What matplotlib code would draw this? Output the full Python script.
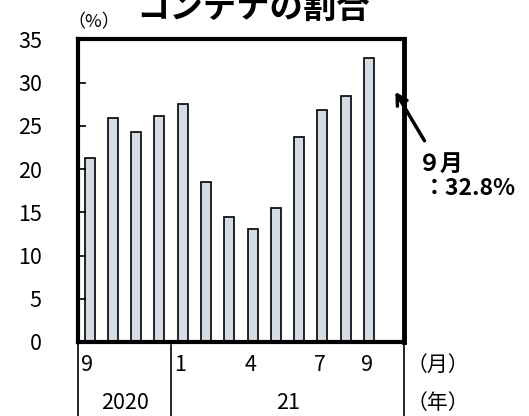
import matplotlib.pyplot as plt

plt.rcParams['font.family'] = ['Noto Sans CJK JP', 'DejaVu Sans']

# share of containers by month, Sep 2020 - Sep 2021 (%)
months = ['9', '10', '11', '12', '1', '2', '3', '4', '5', '6', '7', '8', '9']
share = [21.3, 25.9, 24.3, 26.1, 27.5, 18.5, 14.4, 13.1, 15.5, 23.7, 26.8, 28.5, 32.8]
shown_months = ['9', '1', '4', '7', '9']
shown_idx = [0, 4, 7, 10, 12]
years = ['2020', '21']
year_spans = [(-0.5, 3.5), (3.5, 13.5)]
yticks = [0, 5, 10, 15, 20, 25, 30, 35]

fig = plt.figure(figsize=(5.29, 4.16), dpi=100)
ax = fig.add_axes([0.1474, 0.1779, 0.6163, 0.7274])

x = list(range(len(share)))
ax.bar(x, share, width=0.43, color='#d6dce5', edgecolor='black', linewidth=1.2)

ax.set_xlim(-0.5, 13.5)
ax.set_ylim(0, 35)
ax.set_yticks(yticks)
ax.set_yticklabels([str(v) for v in yticks], fontsize=15.5)
ax.tick_params(axis='y', direction='in', length=6, width=1.2, pad=26)
ax.set_xticks([])
for s in ax.spines.values():
    s.set_linewidth(3)
ax.spines['right'].set_linewidth(3.5)

# category axis below the frame
tr = ax.get_xaxis_transform()
for xb, y0 in [(-0.5, 0), (3.5, -0.01), (13.5, 0)]:
    ax.plot([xb, xb], [y0, -0.26], color='black', lw=1.2, transform=tr, clip_on=False)
for i, lab in zip(shown_idx, shown_months):
    ax.text(i - 0.1, -0.076, lab, transform=tr, ha='center', va='center', fontsize=15.5)
for (a, b), lab in zip(year_spans, years):
    ax.text((a + b) / 2, -0.2, lab, transform=tr, ha='center', va='center', fontsize=15.5)
ax.text(13.6, -0.076, '（月）', transform=tr, ha='left', va='center', fontsize=15)
ax.text(13.6, -0.2, '（年）', transform=tr, ha='left', va='center', fontsize=15)

# labels and title
fig.text(0.128, 1 - 22 / 416, '（%）', ha='left', va='center', fontsize=13)
fig.text(0.479, 1 - 8 / 416, 'コンテナの割合', ha='center', va='center',
         fontsize=24, fontweight='bold')

# annotation for latest month
ax.annotate('', xy=(13.07, 29.2), xytext=(14.44, 23.0), annotation_clip=False,
            arrowprops=dict(arrowstyle='->,head_length=0.7,head_width=0.4',
                            color='black', lw=2.5))
ax.text(14.1, 20.5, '９月', ha='left', va='center', fontsize=16.5,
        fontweight='bold', clip_on=False)
ax.text(14.3, 17.8, '：32.8%', ha='left', va='center', fontsize=16.5,
        fontweight='bold', clip_on=False)

fig.savefig('out.png', dpi=100)
